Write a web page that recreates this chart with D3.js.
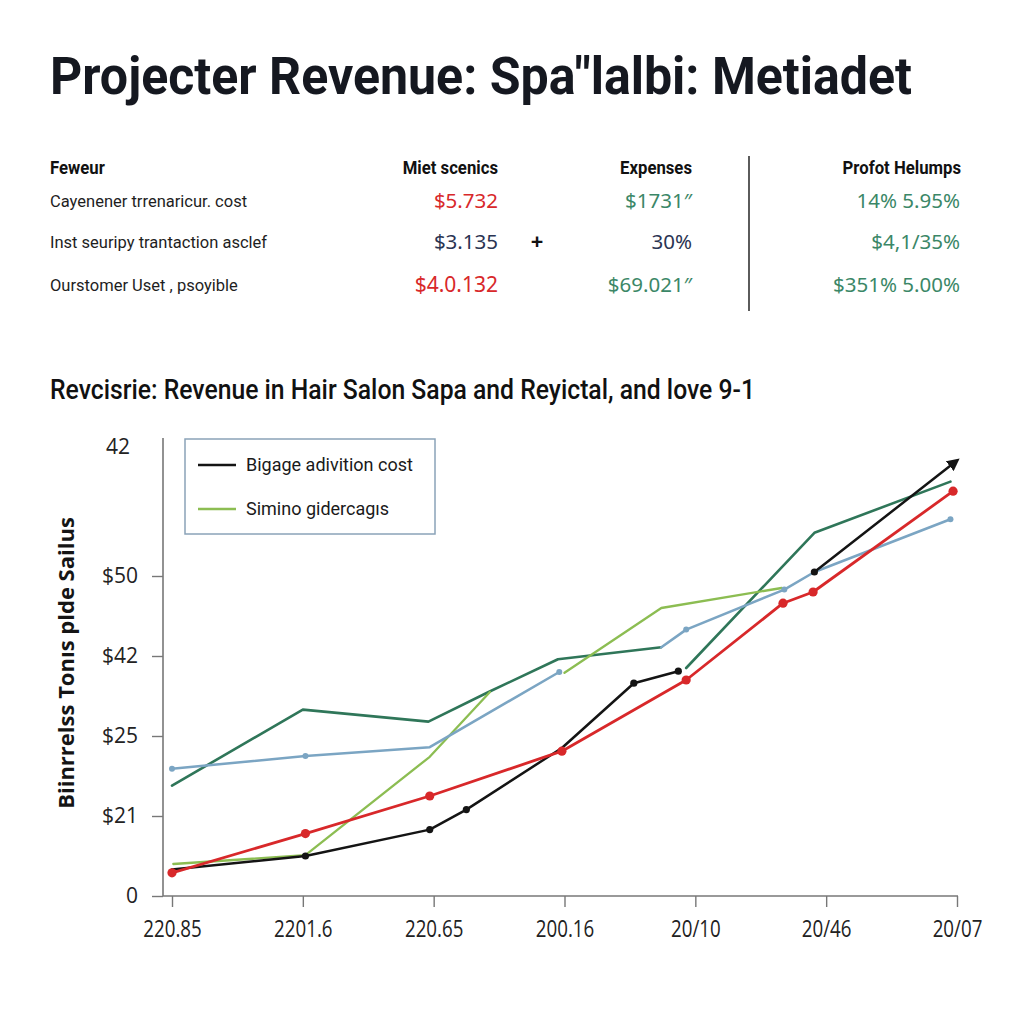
<!DOCTYPE html>
<html><head><meta charset="utf-8">
<script src="https://cdn.jsdelivr.net/npm/d3@7"></script>
<style>
html,body{margin:0;padding:0;background:#fff;}
svg{display:block;}
</style></head>
<body>
<svg id="c" width="1024" height="1024"></svg>
<script>
// ---------- DATA ----------
const titleText = "Projecter Revenue: Spa\u2033lalbi: Metiadet";
const subtitleText = "Revcisrie: Revenue in Hair Salon Sapa and Reyictal, and love 9-1";
const tableHeaders = ["Feweur", "Miet scenics", "Expenses", "Profot Helumps"];
const rowLabels = ["Cayenener trrenaricur. cost", "Inst seuripy trantaction asclef", "Ourstomer Uset , psoyible"];
const colMetrics = ["$5.732", "$3.135", "$4.0.132"];
const colExpenses = ["$1731\u2033", "30%", "$69.021\u2033"];
const colProfit = ["14% 5.95%", "$4,1/35%", "$351% 5.00%"];
const metricKinds = ["red", "navy", "red"];
const expenseKinds = ["green", "navy", "green"];

const xTickLabels = ["220.85", "2201.6", "220.65", "200.16", "20/10", "20/46", "20/07"];
const yTickValues = [0, 1, 2, 3, 4, 5.62];
const yTickLabels = ["0", "$21", "$25", "$42", "$50", "42"];
const yAxisTitle = "Biinrrelss Ton\u0131s plde Sailus";
const legendLabels = ["Bigage adivition cost", "Simino gidercag\u0131s"];

// series: x positions (period index) and values; null = gap
const tealX   = [0, 1.0, 1.96, 2.42, 2.95, 3.74, null, 3.93, 4.91, 5.95];
const tealY   = [1.38, 2.33, 2.18, 2.55, 2.96, 3.11, null, 2.85, 4.54, 5.18];
const blueX   = [0, 1.02, 1.97, 2.96, null, 3.74, 3.93, 4.68, 4.91, 5.95];
const blueY   = [1.59, 1.75, 1.86, 2.80, null, 3.11, 3.33, 3.83, 4.05, 4.71];
const greenX  = [0.01, 1.02, 1.97, 2.43, null, 3.0, 3.74, 4.66];
const greenY  = [0.40, 0.51, 1.74, 2.55, null, 2.79, 3.60, 3.85];
const blackX  = [0, 1.02, 1.97, 2.25, 2.98, 3.53, 3.87, null, 4.91, 5.99];
const blackY  = [0.33, 0.50, 0.83, 1.08, 1.85, 2.66, 2.81, null, 4.05, 5.43];
const redX    = [0, 1.02, 1.97, 2.98, 3.93, 4.67, 4.90, 5.97];
const redY    = [0.29, 0.78, 1.25, 1.81, 2.70, 3.66, 3.80, 5.06];

// ---------- STYLE ----------
const C = {red:"#d8282a", navy:"#2a3452", green:"#3b8767", teal:"#2f7659", blue:"#7ba5c3", lgreen:"#8cbd52", black:"#141414"};
const svg = d3.select("#c");
svg.append("rect").attr("width",1024).attr("height",1024).attr("fill","#fff");

function fitText(sel, w){
  sel.attr("textLength", w).attr("lengthAdjust","spacingAndGlyphs");
  return sel;
}
function squeeze(sel, k){
  sel.each(function(){
    const l = this.getComputedTextLength();
    if (l > 0) d3.select(this).attr("textLength", l*k).attr("lengthAdjust","spacingAndGlyphs");
  });
  return sel;
}

// title
fitText(svg.append("text").attr("x",50).attr("y",94)
  .attr("font-family","Roboto, 'Noto Sans', sans-serif").attr("font-weight",700)
  .attr("font-size",51).attr("fill","#151820").text(titleText), 862);

// table
const colRight = [null, 498, 692, 961];
const headerY = 174;
const rowY = [208, 249, 292];
squeeze(svg.append("text").attr("x",50).attr("y",headerY).attr("font-family","Roboto, sans-serif")
  .attr("font-weight",700).attr("font-size",19).attr("fill","#111").text(tableHeaders[0]), 0.88);
tableHeaders.slice(1).forEach((h,i)=>{
  squeeze(svg.append("text").attr("x",colRight[i+1]).attr("y",headerY).attr("text-anchor","end")
   .attr("font-family","Roboto, sans-serif").attr("font-weight",700).attr("font-size",19)
   .attr("fill","#111").text(h), 0.88);
});
rowLabels.forEach((t,i)=>{
  svg.append("text").attr("x",50).attr("y",rowY[i]-1).attr("font-family","Roboto, sans-serif")
   .attr("font-size",16.5).attr("fill","#1e1e1e").text(t);
  svg.append("text").attr("x",colRight[1]).attr("y",rowY[i]).attr("text-anchor","end")
   .attr("font-family","'Noto Sans', sans-serif").attr("font-size",i===2?21:20.5)
   .attr("fill",C[metricKinds[i]]).text(colMetrics[i]);
  svg.append("text").attr("x",colRight[2]).attr("y",rowY[i]).attr("text-anchor","end")
   .attr("font-family","'Noto Sans', sans-serif").attr("font-size",20.5)
   .attr("fill",C[expenseKinds[i]]).text(colExpenses[i]);
  svg.append("text").attr("x",colRight[3]-1).attr("y",rowY[i]).attr("text-anchor","end")
   .attr("font-family","'Noto Sans', sans-serif").attr("font-size",20.5)
   .attr("fill",C.green).text(colProfit[i]);
});
svg.append("text").attr("x",537).attr("y",249).attr("text-anchor","middle")
  .attr("font-family","'Noto Sans', sans-serif").attr("font-weight",700).attr("font-size",22).attr("fill","#111").text("+");
svg.append("line").attr("x1",749).attr("x2",749).attr("y1",156).attr("y2",311)
  .attr("stroke","#333").attr("stroke-width",1.6);

// subtitle
fitText(svg.append("text").attr("x",50).attr("y",399)
  .attr("font-family","Roboto, sans-serif").attr("font-weight",500)
  .attr("font-size",28).attr("fill","#111").text(subtitleText), 705);

// ---------- CHART ----------
const x = d3.scaleLinear().domain([0,6]).range([172,957]);
const y = d3.scaleLinear().domain([0,5.725]).range([896,438]);
const axisX0 = 163;

const gy = svg.append("g").attr("transform",`translate(${axisX0},0)`)
  .call(d3.axisLeft(y).tickValues(yTickValues).tickFormat((d,i)=>yTickLabels[i]).tickSize(11).tickPadding(14));
gy.select(".domain").remove();
gy.selectAll(".tick line").attr("stroke","#777").attr("stroke-width",1.4)
  .filter((d,i)=>i===yTickValues.length-1).remove();
gy.selectAll(".tick text").attr("font-family","'Open Sans', 'Noto Sans', sans-serif")
  .attr("font-size",21).attr("fill","#222");
gy.selectAll(".tick").filter((d,i)=>i===yTickValues.length-1).select("text").attr("dx",-8);
svg.append("line").attr("x1",axisX0).attr("x2",axisX0).attr("y1",y.range()[1]).attr("y2",y(0))
  .attr("stroke","#777").attr("stroke-width",1.6);

const gx = svg.append("g").attr("transform",`translate(0,${y(0)})`)
  .call(d3.axisBottom(x).tickValues(d3.range(7)).tickFormat((d,i)=>xTickLabels[i]).tickSize(11).tickPadding(13));
gx.select(".domain").remove();
gx.selectAll(".tick line").attr("stroke","#777").attr("stroke-width",1.4);
squeeze(gx.selectAll(".tick text").attr("font-family","'Open Sans', sans-serif")
  .attr("font-size",24).attr("fill","#222"), 0.78);
svg.append("line").attr("x1",axisX0).attr("x2",x(6)+1).attr("y1",y(0)).attr("y2",y(0))
  .attr("stroke","#777").attr("stroke-width",1.6);

svg.append("text").attr("transform","translate(74,663) rotate(-90)").attr("text-anchor","middle")
  .attr("font-family","'Open Sans', sans-serif").attr("font-weight",700).attr("font-size",22)
  .attr("fill","#151515").text(yAxisTitle);

// arrow marker
svg.append("defs").append("marker").attr("id","arr").attr("viewBox","0 0 10 10")
  .attr("refX",6).attr("refY",5).attr("markerWidth",5).attr("markerHeight",5)
  .attr("orient","auto").attr("markerUnits","strokeWidth")
  .append("path").attr("d","M0,0 L10,5 L0,10 z").attr("fill",C.black);

function pts(xs, ys){ return xs.map((v,i)=> (v===null||ys[i]===null)? null : [v, ys[i]]); }
const line = d3.line().defined(d=>d!==null).x(d=>x(d[0])).y(d=>y(d[1]));

function drawSeries(xs, ys, color, w, opts={}){
  const p = pts(xs, ys);
  const path = svg.append("path").attr("d", line(p)).attr("fill","none")
    .attr("stroke",color).attr("stroke-width",w).attr("stroke-linejoin","round").attr("stroke-linecap","round");
  if (opts.arrow) path.attr("marker-end","url(#arr)");
  if (opts.r) {
    svg.append("g").selectAll("circle").data(p.filter((d,i)=>d!==null && (!opts.idx || opts.idx.includes(i))))
      .join("circle").attr("cx",d=>x(d[0])).attr("cy",d=>y(d[1])).attr("r",opts.r)
      .attr("fill",opts.dot||color);
  }
}

drawSeries(tealX, tealY, C.teal, 2.6);
drawSeries(greenX, greenY, C.lgreen, 2.3);
drawSeries(blueX, blueY, C.blue, 2.6, {r:3, idx:[0,1,3,6,7,9]});
drawSeries(blackX, blackY, C.black, 2.5, {r:3.6, idx:[1,2,3,5,6,8], arrow:true});
drawSeries(redX, redY, C.red, 2.8, {r:4.6});

// legend
const lg = svg.append("g");
lg.append("rect").attr("x",185).attr("y",439).attr("width",250).attr("height",95)
  .attr("fill","#fff").attr("stroke","#8aa3b8").attr("stroke-width",1.5);
const legColors = [C.black, C.lgreen];
legendLabels.forEach((t,i)=>{
  const yy = 465 + i*44;
  lg.append("line").attr("x1",198).attr("x2",236).attr("y1",yy).attr("y2",yy)
    .attr("stroke",legColors[i]).attr("stroke-width",2.6);
  lg.append("text").attr("x",246).attr("y",yy+6).attr("font-family","Roboto, sans-serif")
    .attr("font-size",18).attr("fill","#1a1a1a").text(t);
});
</script>
</body></html>
